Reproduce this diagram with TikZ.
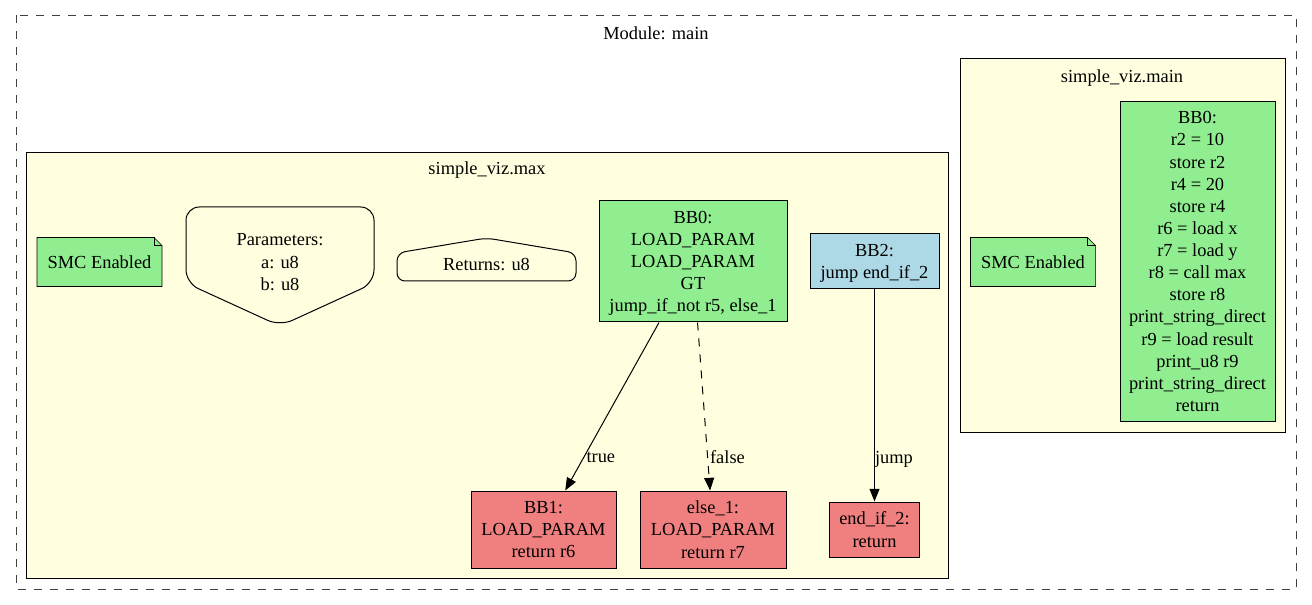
\documentclass[tikz,border=0pt]{standalone}
\usepackage{fontspec}
\setmainfont{Liberation Serif}
\usetikzlibrary{arrows.meta,calc,backgrounds}

\definecolor{clusterfill}{RGB}{255,255,224}
\definecolor{blockgreen}{RGB}{144,238,144}
\definecolor{blockblue}{RGB}{173,216,230}
\definecolor{blockred}{RGB}{240,128,128}

\tikzset{every picture/.style={line width=0.75pt}}
\tikzset{
  txt/.style={inner sep=0.75pt, align=center, font=\fontsize{13.8}{16.6}\selectfont, text depth=0pt},
  block/.style={txt, draw, inner sep=0pt, text depth=-3.8pt},
  flow/.style={-{Triangle[length=9.5pt,width=7.5pt]}},
  gvdash/.style={dash pattern=on 6pt off 6pt},
  edgelbl/.style={txt, pos=0.8, anchor=west, inner sep=1.5pt},
}

\begin{document}
\begin{tikzpicture}[x=0.75pt,y=0.75pt,yscale=-1]
\useasboundingbox (0,0) rectangle (1312,605);

% Text Node
\node[txt] (moduletitle) at (656,33) {Module: main};
% Text Node
\node[txt] (maxtitle) at (487,168) {simple\_viz.max};
% Text Node
\node[txt] (maintitle) at (1122,76) {simple\_viz.main};

%simple_viz.max
\node[txt, minimum width=93pt, minimum height=36pt] (smcmax) at (99.5,262) {SMC Enabled};
\node[txt] (params) at (280,262) {Parameters:\\a: u8\\b: u8};
\node[txt] (returns) at (486.5,264) {Returns: u8};
\node[block, fill=blockgreen, minimum width=141pt, minimum height=90.75pt] (bbzero) at (693,261.5) {BB0:\\LOAD\_PARAM\\LOAD\_PARAM\\GT\\jump\_if\_not r5, else\_1};
\node[block, fill=blockblue, minimum width=96.75pt, minimum height=41.25pt] (bbtwo) at (874.5,261.5) {BB2:\\jump end\_if\_2};
\node[block, fill=blockred, minimum width=108.75pt, minimum height=57.75pt] (bbone) at (543.5,529.5) {BB1:\\LOAD\_PARAM\\return r6};
\node[block, fill=blockred, minimum width=109.5pt, minimum height=57.75pt] (elseone) at (713,529.5) {else\_1:\\LOAD\_PARAM\\return r7};
\node[block, fill=blockred, minimum width=67.5pt, minimum height=41.25pt] (endiftwo) at (874.5,529.5) {end\_if\_2:\\return};

%Straight Lines
\draw[flow] (bbzero) -- (bbone) node[edgelbl] (truelbl) {true};
\draw[flow, gvdash] (bbzero) -- (elseone) node[edgelbl] (falselbl) {false};
\draw[flow] (bbtwo) -- (endiftwo) node[edgelbl, pos=0.79, inner sep=0pt] (jumplbl) {jump};

%Shape: Polygon
\draw[rounded corners=10pt] (280,207) -- (374,207) -- (374,283) -- (280,326) -- (186,283) -- (186,207) -- cycle;
%Shape: Polygon
\draw[rounded corners=6pt] (486.5,281) -- (397,281) -- (397,253) -- (486.5,238) -- (576,253) -- (576,281) -- cycle;

%simple_viz.main
\node[txt, minimum width=93pt, minimum height=36pt] (smcmain) at (1033,262) {SMC Enabled};
\node[block, fill=blockgreen, minimum width=116.25pt, minimum height=239.25pt] (bbmain) at (1197.5,261.5) {BB0:\\r2 = 10\\store r2\\r4 = 20\\store r4\\r6 = load x\\r7 = load y\\r8 = call max\\store r8\\print\_string\_direct\\r9 = load result\\print\_u8 r9\\print\_string\_direct\\return};

\begin{pgfonlayer}{background}
%Shape: Rectangle
\draw[draw=black!75, gvdash] (16,15) rectangle (1296,589);
%Shape: Rectangle
\draw[fill=clusterfill] (26,152) rectangle (948,578);
%Shape: Rectangle
\draw[fill=clusterfill] (960,58) rectangle (1285,432);
%Shape: Note
\foreach \n in {smcmax,smcmain} {
  \draw[fill=blockgreen] (\n.north west) -- ($(\n.north east)+(-8,0)$) -- ($(\n.north east)+(0,8)$) -- (\n.south east) -- (\n.south west) -- cycle;
  \draw ($(\n.north east)+(-8,0)$) -- ($(\n.north east)+(-8,8)$) -- ($(\n.north east)+(0,8)$);
}
\end{pgfonlayer}

\end{tikzpicture}
\end{document}
